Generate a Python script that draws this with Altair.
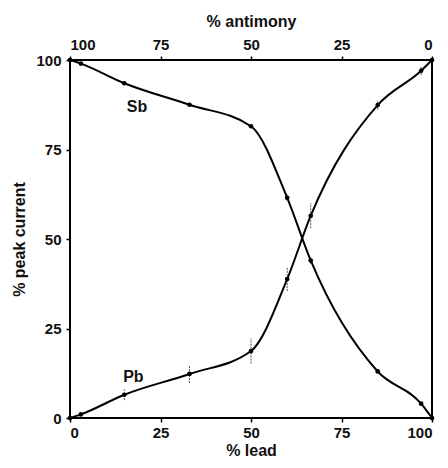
import altair as alt
import pandas as pd

# % lead (x) for both series
lead = [0, 3, 15, 33, 50, 60, 66.5, 85, 97, 100]
# % peak current for antimony (Sb) and lead (Pb)
sb = [100, 99, 93.5, 87.5, 81.5, 61.5, 44, 13, 4, 0]
pb = [0, 1, 6.5, 12.3, 18.7, 38.8, 56.5, 87.4, 97, 100]
pb_err = [0, 0, 1.5, 2.5, 3.5, 3.3, 3.5, 1.2, 1.2, 0]
sb_err = [0, 0, 0, 0, 0, 1.0, 1.0, 0, 0, 0]

x_ticks = [0, 25, 50, 75, 100]
y_ticks = [0, 25, 50, 75, 100]

labels = ["Sb", "Pb"]
label_x = [18.5, 17.5]
label_y = [87, 11.5]

rows = []
for i, x in enumerate(lead):
    rows.append({"lead": x, "val": sb[i], "err": sb_err[i], "series": "Sb"})
    rows.append({"lead": x, "val": pb[i], "err": pb_err[i], "series": "Pb"})
df = pd.DataFrame(rows)
df["lo"] = df["val"] - df["err"]
df["hi"] = df["val"] + df["err"]

lab_df = pd.DataFrame({"t": labels, "x": label_x, "val": label_y})

FONT = "Liberation Sans"
xs = alt.Scale(domain=[0, 100], nice=False, zero=False)
ys = alt.Scale(domain=[0, 100], nice=False, zero=False)
y_axis = alt.Axis(values=y_ticks, title="% peak current", labelPadding=5, titlePadding=8)

x_bottom = alt.X("lead:Q", scale=xs, axis=alt.Axis(values=x_ticks, title="% lead", orient="bottom",
                                                   labelPadding=3, titlePadding=2))
y_left = alt.Y("val:Q", scale=ys, axis=y_axis)

base = alt.Chart(df)

lines = base.mark_line(interpolate="monotone", color="black", strokeWidth=2).encode(
    x=x_bottom, y=y_left, detail="series:N"
)
pts = base.mark_circle(color="black", size=22, opacity=1).encode(
    x=alt.X("lead:Q", scale=xs, axis=None), y=alt.Y("val:Q", scale=ys, axis=y_axis)
)
errs = base.transform_filter("datum.err > 0").mark_rule(color="#555", strokeWidth=1, strokeDash=[2, 1]).encode(
    x=alt.X("lead:Q", scale=xs, axis=None), y=alt.Y("lo:Q", scale=ys, axis=y_axis), y2="hi:Q"
)
top_axis = base.mark_point(opacity=0).encode(
    x=alt.X("lead:Q", scale=xs, axis=alt.Axis(values=x_ticks, orient="top", title="% antimony",
                                              labelExpr="100 - datum.value", labelPadding=4,
                                              titlePadding=8)),
    y=alt.Y("val:Q", scale=ys, axis=y_axis)
)
texts = alt.Chart(lab_df).mark_text(font=FONT, fontSize=16, fontWeight="bold", color="#111").encode(
    x=alt.X("x:Q", scale=xs, axis=None), y=alt.Y("val:Q", scale=ys, axis=y_axis), text="t:N"
)

chart = alt.layer(lines, errs, pts, texts, top_axis).resolve_axis(x="independent").properties(
    width=362, height=358,
    autosize=alt.AutoSizeParams(type="none"),
    padding={"left": 62, "top": 52, "right": 8, "bottom": 42},
).configure_view(stroke="black", strokeWidth=2).configure_axis(
    domain=False, grid=False, tickColor="black", tickSize=4, tickWidth=1.5,
    labelFont=FONT, labelFontSize=15, labelFontWeight="bold", labelColor="#111",
    titleFont=FONT, titleFontSize=16, titleFontWeight="bold", titleColor="#111",
)

chart.save("out.html", embed_options={"renderer": "svg", "actions": False})
